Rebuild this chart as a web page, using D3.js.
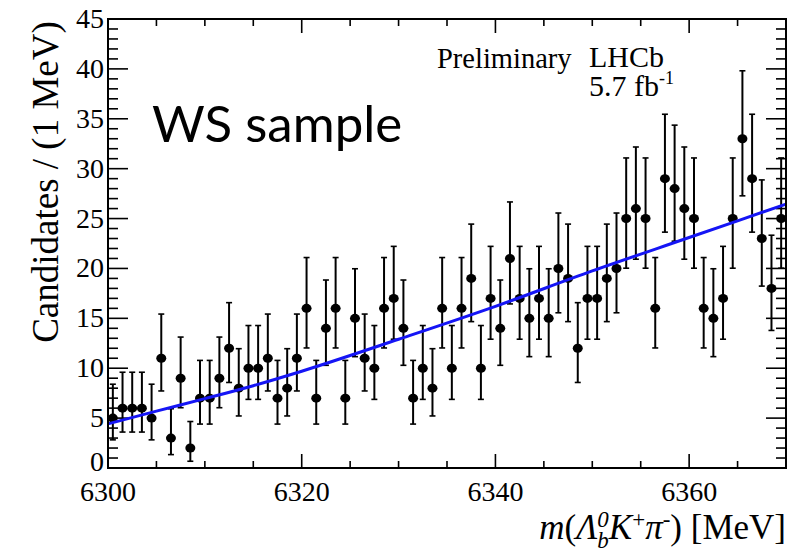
<!DOCTYPE html>
<html><head><meta charset="utf-8">
<script src="https://cdn.jsdelivr.net/npm/d3@7"></script>
<style>html,body{margin:0;padding:0;background:#fff;}svg{display:block;}</style>
</head><body>
<svg id="c" width="793" height="552"></svg>
<script>
// Bin centres (MeV) and candidate counts per 1 MeV bin
const binLow = 6300, binWidth = 1;
const counts = [5,6,6,6,5,11,3,9,2,7,7,9,12,8,10,10,11,7,8,11,16,7,14,16,7,15,11,10,16,17,14,7,10,8,16,10,16,19,10,17,14,21,17,15,17,15,20,19,12,17,17,19,20,25,26,25,16,29,28,26,25,16,15,17,25,33,29,23,18,25];
// Fit curve
const fitMass = [6300, 6305, 6310, 6315, 6320, 6330, 6340, 6350, 6360, 6370];
const fitVal  = [4.42, 5.70, 6.95, 8.25, 9.70, 12.90, 16.20, 19.75, 23.10, 26.45];
// Axis ticks
const xTickLabels = [6300, 6320, 6340, 6360];
const yTickLabels = [0,5,10,15,20,25,30,35,40,45];

const svg = d3.select("#c");
const L = 108, T = 19, R = 786, B = 468;
const x = d3.scaleLinear().domain([6300, 6370]).range([L, R]);
const y = d3.scaleLinear().domain([0, 45]).range([B, T]);
const serif = "'Liberation Serif','Times New Roman',serif";

// Ticks
const g = svg.append("g").attr("stroke", "#000").attr("stroke-width", 1.6);
d3.range(6300, 6371, 5).forEach(v => {
  const major = v % 20 === 0;
  const len = major ? 14 : 7;
  g.append("line").attr("x1", x(v)).attr("x2", x(v)).attr("y1", B).attr("y2", B - len);
  g.append("line").attr("x1", x(v)).attr("x2", x(v)).attr("y1", T).attr("y2", T + len);
});
d3.range(0, 46, 1).forEach(v => {
  const major = v % 5 === 0;
  const len = major ? 20 : 10;
  g.append("line").attr("x1", L).attr("x2", L + len).attr("y1", y(v)).attr("y2", y(v));
  g.append("line").attr("x1", R).attr("x2", R - len).attr("y1", y(v)).attr("y2", y(v));
});

// Data points with Poisson errors
const pts = svg.append("g");
counts.forEach((n, i) => {
  const cx = x(binLow + (i + 0.5) * binWidth);
  const lo = n - Math.sqrt(n - 0.25);
  const hi = n + 1 + Math.sqrt(n + 0.75);
  pts.append("line").attr("x1", cx).attr("x2", cx).attr("y1", y(lo)).attr("y2", y(hi))
    .attr("stroke", "#000").attr("stroke-width", 2);
  [lo, hi].forEach(e => pts.append("line").attr("x1", cx - 3).attr("x2", cx + 3)
    .attr("y1", y(e)).attr("y2", y(e)).attr("stroke", "#000").attr("stroke-width", 1.6));
  pts.append("ellipse").attr("cx", cx).attr("cy", y(n)).attr("rx", 5).attr("ry", 4.5).attr("fill", "#000");
});

// Fit line
const line = d3.line().x((d, i) => x(fitMass[i])).y(d => y(d)).curve(d3.curveMonotoneX);
svg.append("path").attr("d", line(fitVal)).attr("fill", "none").attr("stroke", "#1515f5").attr("stroke-width", 3);

// Frame
svg.append("rect").attr("x", L).attr("y", T).attr("width", R - L).attr("height", B - T)
  .attr("fill", "none").attr("stroke", "#000").attr("stroke-width", 2);

// Tick labels
svg.append("g").selectAll("text").data(yTickLabels).join("text")
  .attr("x", 104).attr("y", d => d === 0 ? y(d) + 3 : y(d) + 9).attr("text-anchor", "end")
  .attr("font-family", serif).attr("font-size", 28).text(d => d);
svg.append("g").selectAll("text").data(xTickLabels).join("text")
  .attr("x", d => x(d)).attr("y", 501).attr("text-anchor", "middle")
  .attr("font-family", serif).attr("font-size", 28).text(d => d);

// Axis titles
svg.append("text").attr("transform", "translate(58,182) rotate(-90)").attr("text-anchor", "middle")
  .attr("font-family", serif).attr("font-size", 37).text("Candidates / (1 MeV)");
const xt = svg.append("text").attr("x", 786).attr("y", 539).attr("text-anchor", "end")
  .attr("font-family", serif).attr("font-size", 35);
xt.append("tspan").attr("font-style", "italic").text("m");
xt.append("tspan").text("(");
xt.append("tspan").attr("font-style", "italic").text("Λ");
xt.append("tspan").attr("font-style", "italic").attr("font-size", 23).attr("dy", -12).text("0");
xt.append("tspan").attr("font-style", "italic").attr("font-size", 23).attr("dx", -11.5).attr("dy", 21).text("b");
xt.append("tspan").attr("font-style", "italic").attr("dy", -9).text("K");
xt.append("tspan").attr("font-size", 23).attr("dy", -12).text("+");
xt.append("tspan").attr("font-style", "italic").attr("dy", 12).text("π");
xt.append("tspan").attr("font-size", 23).attr("dy", -12).text("-");
xt.append("tspan").attr("dy", 12).text(") [MeV]");

// Annotations
svg.append("text").attr("x", 152).attr("y", 142).attr("font-family", "Lato,'Open Sans',sans-serif")
  .attr("font-size", 51).text("WS sample");
svg.append("text").attr("x", 437).attr("y", 68).attr("font-family", serif).attr("font-size", 28.5).text("Preliminary");
svg.append("text").attr("x", 589).attr("y", 67).attr("font-family", serif).attr("font-size", 30).text("LHCb");
const lum = svg.append("text").attr("x", 589).attr("y", 96).attr("font-family", serif).attr("font-size", 30);
lum.append("tspan").text("5.7 fb");
lum.append("tspan").attr("font-size", 18).attr("dy", -12).text("-1");
</script>
</body></html>
